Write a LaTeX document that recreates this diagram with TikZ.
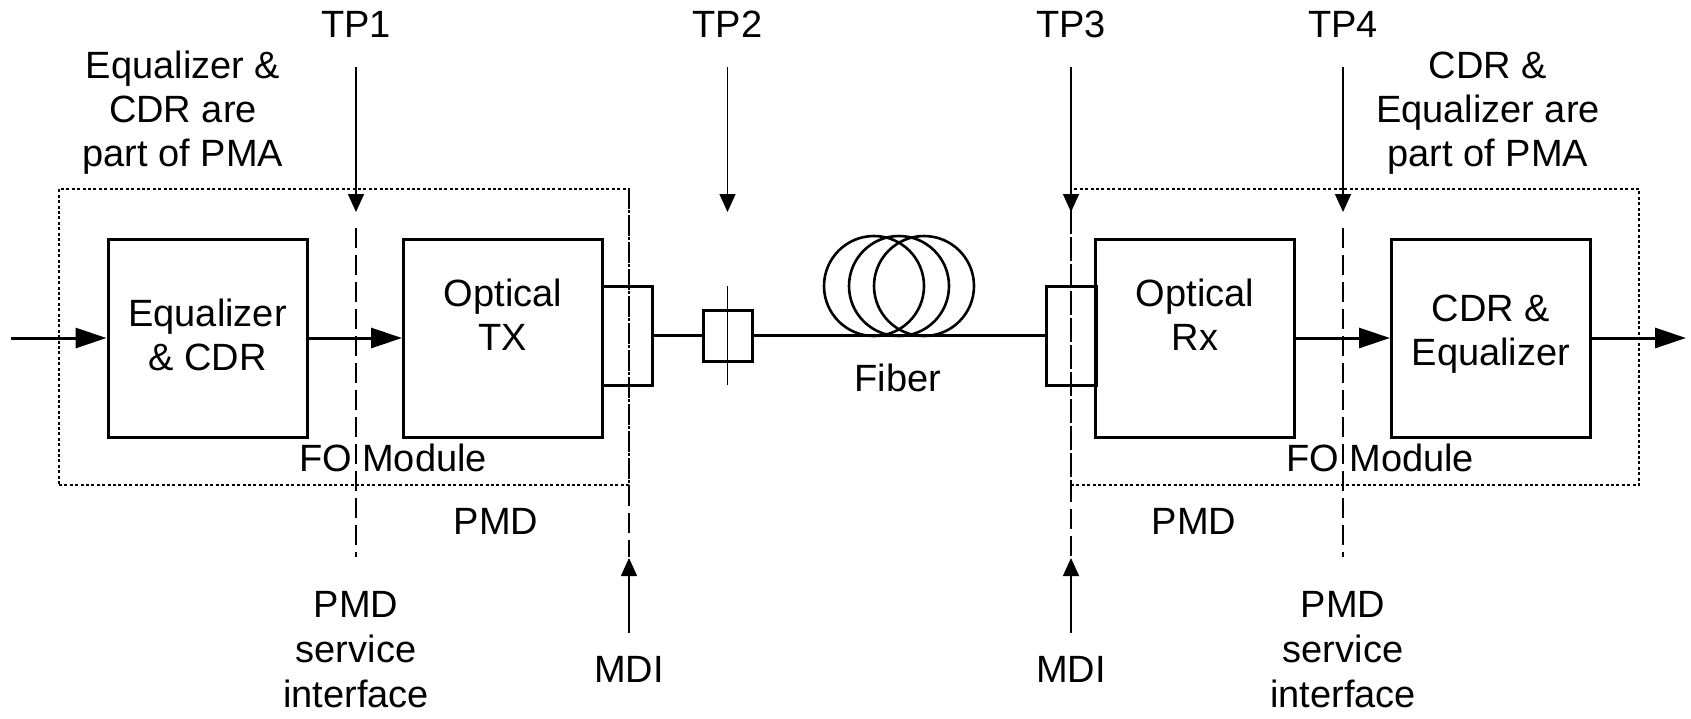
\documentclass[tikz,border=0pt]{standalone}
\usepackage{fontspec}
\setmainfont{Liberation Sans}
\usetikzlibrary{arrows.meta}
\begin{document}
\begin{tikzpicture}[x=0.5pt,y=-0.5pt,
  box/.style={draw,line width=1.5pt,inner sep=0pt,minimum width=99.5pt,minimum height=99pt},
  conbox/.style={draw,line width=1.5pt,inner sep=0pt,minimum width=25pt,minimum height=49.5pt},
  lbl/.style={font=\fontsize{19}{22}\selectfont,align=center,inner sep=0pt},
  sig/.style={line width=1.5pt,-{Triangle[length=15.5pt,width=10pt]}},
  tparrow/.style={line width=0.75pt,-{Triangle[length=9pt,width=8pt]}},
  tpline/.style={line width=1pt,dash pattern=on 10pt off 3.5pt},
  module/.style={draw,line width=0.8pt,dash pattern=on 1.5pt off 1.2pt,inner sep=0pt},
  coil/.style={draw,circle,line width=1.3pt,minimum size=50pt,inner sep=0pt}]
\useasboundingbox (0,0) rectangle (1691,718);

% module outlines
\node[module,minimum width=285pt,minimum height=148pt] (modL) at (344,337) {};
\node[module,minimum width=284pt,minimum height=148pt] (modR) at (1355,337) {};

% main boxes
\node[box] (eq) at (207.5,338) {};
\node[lbl] (eqt) at (207.5,334.5) {Equalizer\\\& CDR};
\node[box] (tx) at (503,338) {};
\node[lbl] (txt) at (503,314.5) {Optical\\TX};
\node[conbox] (ctx) at (627,335.5) {};
\node[draw,line width=1.5pt,inner sep=0pt,minimum width=24.5pt,minimum height=25.5pt] (tp2b) at (727.5,335.5) {};
\coordinate (tk1) at (727.5,286);
\coordinate (tk2) at (727.5,385);
\draw[line width=0.75pt] (tk1) -- (tk2);
\node[conbox] (crx) at (1071,335.5) {};
\node[box] (rx) at (1195,338) {};
\node[lbl] (rxt) at (1195,314.5) {Optical\\Rx};
\node[box] (cdr) at (1491,338) {};
\node[lbl] (cdrt) at (1491,334.5) {CDR \&\\Equalizer};

% fiber coils
\node[coil] (c1) at (874,286) {};
\node[coil] (c2) at (899,286) {};
\node[coil] (c3) at (924,286) {};
\node[lbl] (fib) at (898,378) {Fiber};

% signal path
\coordinate (in) at (11,338);
\coordinate (out) at (1686,338);
\draw[sig] (in) -- (eq.west);
\draw[sig] (eq.east) -- (tx.west);
\draw[line width=1.3pt] (ctx.east) -- (tp2b.west);
\draw[line width=1.3pt] (tp2b.east) -- (crx.west);
\draw[sig] (rx.east) -- (cdr.west);
\draw[sig] (cdr.east) -- (out);

% test points
\node[lbl] (tp1) at (356,24) {TP1};
\node[lbl] (tp2) at (727.5,24) {TP2};
\node[lbl] (tp3) at (1071,24) {TP3};
\node[lbl] (tp4) at (1343,24) {TP4};
\foreach \n/\x in {1/356,2/727.5,3/1071,4/1343}{
  \coordinate (tp\n s) at (\x,67);
  \coordinate (tp\n e) at (\x,212);
  \draw[tparrow] (tp\n s) -- (tp\n e);
}
\coordinate (d1a) at (356,228);   \coordinate (d1b) at (356,557);
\coordinate (d3a) at (1071,212);  \coordinate (d3b) at (1071,557);
\coordinate (d4a) at (1343,228);  \coordinate (d4b) at (1343,557);
\coordinate (m1a) at (629,189);   \coordinate (m1b) at (629,557);
\draw[tpline] (d1a) -- (d1b);
\draw[tpline] (d3a) -- (d3b);
\draw[tpline] (d4a) -- (d4b);
\draw[tpline] (m1a) -- (m1b);

% MDI arrows
\coordinate (mdi1s) at (629,633); \coordinate (mdi1e) at (629,558);
\coordinate (mdi2s) at (1071,633); \coordinate (mdi2e) at (1071,558);
\draw[tparrow] (mdi1s) -- (mdi1e);
\draw[tparrow] (mdi2s) -- (mdi2e);

% labels
\node[lbl] (noteL) at (183,113) {Equalizer \&\\CDR are\\part of PMA};
\node[lbl] (noteR) at (1488,113) {CDR \&\\Equalizer are\\part of PMA};
\node[lbl] (foL) at (393,458) {FO Module};
\node[lbl] (foR) at (1380,458) {FO Module};
\node[lbl] (pmdL) at (496,521) {PMD};
\node[lbl] (pmdR) at (1194,521) {PMD};
\node[lbl,font=\fontsize{19}{22.5}\selectfont] (psiL) at (356,650) {PMD\\service\\interface};
\node[lbl,font=\fontsize{19}{22.5}\selectfont] (psiR) at (1343,650) {PMD\\service\\interface};
\node[lbl] (mdiL) at (629,669) {MDI};
\node[lbl] (mdiR) at (1071,669) {MDI};
\end{tikzpicture}
\end{document}
